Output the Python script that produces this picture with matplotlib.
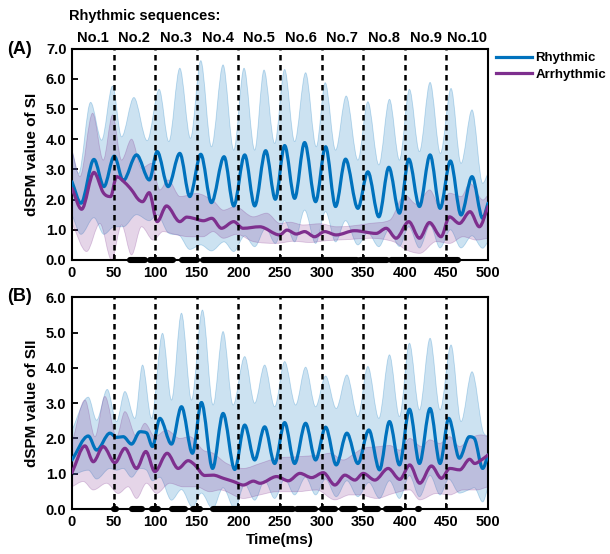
import numpy as np
import matplotlib
matplotlib.use("Agg")
import matplotlib.pyplot as plt
from matplotlib.path import Path
from matplotlib.patches import PathPatch

plt.rcParams['font.family'] = ['Liberation Sans', 'DejaVu Sans']
plt.rcParams['font.weight'] = 'bold'

# ---------------- data ----------------
# panel A : SI
A_rhy_t = [0, 10.8, 26.4, 38.4, 50.8, 61.6, 77.6, 93, 102.4, 115.6, 129.6, 141.6, 154.8, 167.6, 182.8, 194.4,
           207.6, 219.6, 232.8, 244.4, 255.6, 267.6, 279.6, 292.8, 304.8, 316.8, 328.8, 343.6, 355.6, 368.8,
           380.8, 393.6, 404.8, 417.6, 430.4, 442.4, 454.8, 467.6, 480.8, 493.6, 500]
A_rhy_v = [2.59, 1.88, 3.33, 2.43, 3.44, 2.63, 3.48, 2.65, 3.59, 2.43, 3.53, 2.10, 3.50, 1.90, 3.42, 1.79,
           3.48, 1.79, 3.62, 2.01, 3.79, 2.04, 3.89, 1.93, 3.75, 1.77, 3.34, 1.71, 2.92, 1.43,
           3.07, 1.55, 3.34, 1.77, 3.48, 1.71, 3.28, 1.49, 2.76, 1.38, 1.88]
A_rhy_lo = [1.50, 0.85, 1.40, 0.85, 1.10, 1.10, 1.50, 1.30, 1.50, 0.90, 0.80, 0.35, 0.50, 0.30, 0.60, 0.28,
            0.80, 0.44, 1.05, 0.55, 1.30, 0.60, 1.65, 0.55, 1.60, 0.60, 1.30, 0.50, 0.90, 0.44,
            1.00, 0.45, 1.10, 0.40, 1.15, 0.40, 1.00, 0.40, 0.80, 0.39, 0.60]
A_rhy_hi_t = [0, 8, 22.4, 35.6, 48.8, 59.6, 74.4, 90.4, 104.8, 116.4, 129.6, 142.4, 154.8, 167.6, 181.6,
              194.4, 206.8, 219.6, 230.8, 243.6, 255.6, 267.6, 280.8, 293.6, 304.4, 316.8, 329.6, 343.6,
              355.6, 368.8, 381.6, 393.6, 405.6, 417.6, 430.4, 442.8, 455.6, 467.6, 480.8, 493.6, 500]
A_rhy_hi = [3.64, 2.87, 5.22, 3.97, 5.76, 4.08, 5.38, 3.95, 5.65, 3.92, 6.35, 4.03, 6.60, 3.75, 6.46,
            3.64, 6.35, 3.64, 6.29, 3.86, 6.31, 3.92, 6.20, 3.75, 5.87, 3.64, 5.43, 3.31,
            5.24, 3.15, 5.32, 3.31, 5.65, 3.59, 5.88, 3.53, 5.68, 3.20, 4.97, 2.54, 2.87]

A_arr_t = [0, 11.6, 26.4, 37.6, 46.4, 53.6, 63.6, 71.6, 79.6, 84.8, 92.8, 102.4, 113.6, 129.6, 138, 146,
           158, 168, 179.6, 194.4, 205.6, 225.6, 249.6, 258.4, 269.6, 279.6, 291.6, 303.6, 317.6, 339.6,
           365.6, 377.6, 389.6, 404.8, 417.6, 429.6, 443.6, 453.6, 465.6, 478.4, 489.6, 500]
A_arr_v = [2.37, 1.68, 2.90, 2.23, 2.10, 2.76, 2.56, 2.32, 2.01, 1.93, 2.23, 1.27, 1.79, 1.27, 1.42, 1.38,
           1.30, 1.38, 1.05, 1.27, 1.05, 1.10, 0.83, 0.99, 0.86, 0.94, 0.77, 0.94, 0.83, 0.97,
           0.88, 1.05, 0.72, 1.27, 0.72, 1.24, 0.77, 1.43, 1.21, 1.60, 1.10, 1.77]
A_arr_hi_t = [0, 9.6, 24.8, 37.6, 48.8, 59.6, 71.6, 83.6, 95.6, 105.6, 115.6, 130, 150, 170, 182, 196,
              218, 234, 250, 262, 278, 298, 318, 334, 358, 382, 400, 414, 430, 442, 454, 468, 478, 494, 500]
A_arr_hi = [3.64, 2.76, 4.86, 3.31, 4.80, 3.31, 4.00, 3.04, 3.20, 2.32, 2.65, 2.10, 2.20, 1.95, 1.65, 1.77,
            1.43, 1.55, 1.21, 1.25, 1.16, 1.20, 1.10, 1.12, 1.21, 1.32, 2.15, 1.85, 2.32, 1.77, 2.21,
            2.10, 2.54, 1.99, 2.15]
A_arr_lo_t = [0, 17.6, 33.6, 47.6, 59.6, 71.6, 83.6, 97.6, 109.6, 125.6, 141.6, 157.6, 169.6, 182, 198,
              218, 246, 266, 286, 306, 334, 358, 386, 402, 418, 438, 454, 470, 486, 500]
A_arr_lo = [1.21, 0.28, 1.21, 0.0, 1.16, 0.17, 1.10, 0.66, 0.94, 0.83, 0.77, 0.77, 0.94, 0.72, 0.85,
            0.61, 0.55, 0.62, 0.58, 0.64, 0.68, 0.72, 0.61, 0.33, 0.22, 0.61, 0.55, 0.77, 0.66, 0.72]
A_sig = [(70, 88), (94, 122), (132, 144), (146, 150), (157, 342), (346, 379), (384, 464)]

# panel B : SII
B_rhy_t = [0, 19.6, 29.6, 45.6, 53.6, 61.6, 71.6, 81.6, 89.6, 96.8, 105.6, 119.6, 131.6, 144.8, 155.6, 169,
           181.6, 195.6, 207.6, 219.6, 231.6, 243.6, 255.6, 267.6, 280.8, 292.8, 304.8, 317.6, 330.4,
           343.6, 356.8, 369.6, 381.6, 393.6, 405.6, 417.6, 430.4, 442.4, 452.8, 465.6, 477.6, 483.6,
           493.6, 500]
B_rhy_v = [1.39, 2.07, 1.67, 2.15, 2.03, 2.05, 1.84, 2.19, 2.16, 1.77, 2.57, 1.84, 2.90, 1.58, 3.02, 1.15,
           2.71, 1.12, 2.38, 1.39, 2.33, 1.29, 2.45, 1.29, 2.43, 1.39, 2.32, 1.25, 2.15,
           1.29, 2.24, 1.11, 2.48, 1.25, 2.83, 1.29, 2.85, 1.29, 2.57, 1.44, 2.05, 2.00,
           1.15, 1.53]
B_rhy_lo = [0.95, 1.10, 0.85, 1.15, 1.10, 1.15, 0.90, 1.15, 1.10, 0.80, 0.90, 0.25, 0.55, 0.05, 0.45, 0.00,
            0.60, 0.00, 0.70, 0.25, 0.80, 0.30, 0.85, 0.40, 0.90, 0.40, 0.85, 0.35, 0.80,
            0.35, 0.75, 0.30, 0.80, 0.30, 0.95, 0.35, 0.95, 0.40, 0.85, 0.45, 0.55, 0.60,
            0.20, 0.60]
B_rhy_hi_t = [0, 19.6, 29.6, 42.4, 53.6, 63.6, 75.6, 84.8, 95.6, 108.8, 119.6, 131.6, 143.6, 156.8, 169.6,
              181.6, 193.6, 207.6, 219.6, 231.6, 243.6, 255.6, 268.8, 280.8, 292.8, 304.8, 317.6, 330.4,
              343.6, 355.6, 368.8, 381.6, 393.6, 405.6, 417.6, 430.4, 442.4, 455.6, 467.6, 480.8, 493.6, 500]
B_rhy_hi = [2.24, 3.17, 2.52, 3.39, 2.48, 3.33, 2.57, 4.08, 2.57, 4.98, 3.09, 5.55, 3.09, 5.64, 2.95,
            5.03, 2.95, 4.32, 3.00, 4.08, 2.90, 4.18, 2.95, 4.02, 2.90, 3.77, 2.85, 3.80,
            2.62, 4.04, 2.57, 4.37, 2.62, 4.70, 2.81, 4.84, 2.81, 4.65, 2.48, 3.89, 2.24, 2.05]

B_arr_t = [0, 15.6, 25.6, 37.6, 51.6, 63.6, 77.6, 88.8, 99.6, 114.4, 127.6, 139.6, 147.6, 159.6, 169.6,
           182, 194, 206, 218, 226, 246, 260, 274, 288, 302, 316, 328, 340, 350, 364, 380, 394, 406,
           418, 432, 444, 454, 466, 478, 484, 492, 500]
B_arr_v = [1.03, 1.79, 1.34, 1.77, 1.31, 1.72, 1.15, 1.63, 1.06, 1.58, 1.15, 1.37, 1.25, 0.95, 0.96,
           0.87, 0.78, 0.68, 0.79, 0.73, 0.92, 0.80, 1.01, 0.89, 1.03, 0.68, 0.96, 0.82, 1.01, 0.82,
           1.15, 0.84, 1.25, 0.73, 1.22, 0.87, 1.15, 1.11, 1.41, 1.29, 1.39, 1.53]
B_arr_hi_t = [0, 15.6, 27.6, 39.6, 53.6, 63.6, 77.6, 87.6, 99.6, 113.6, 129.6, 141.6, 157.6, 169.6, 186,
              206, 226, 246, 270, 298, 310, 326, 340, 350, 370, 382, 394, 406, 420, 430, 442, 454, 466,
              478, 492, 500]
B_arr_hi = [1.86, 3.09, 2.05, 3.19, 2.05, 2.76, 2.05, 2.43, 2.05, 2.24, 2.00, 2.05, 1.67, 1.58, 1.29,
            1.15, 1.29, 1.44, 1.48, 1.53, 1.58, 1.39, 1.58, 1.72, 1.77, 1.80, 1.67, 2.00, 1.77, 1.96,
            1.86, 2.05, 1.77, 2.00, 2.10, 2.05]
B_arr_lo_t = [0, 13.6, 25.6, 41.6, 55.6, 67.6, 77.6, 89.6, 101.6, 117.6, 133.6, 149.6, 165.6, 178, 206,
              226, 246, 270, 294, 316, 334, 346, 366, 386, 406, 418, 438, 454, 470, 486, 500]
B_arr_lo = [0.63, 0.78, 0.54, 0.73, 0.44, 0.63, 0.30, 0.73, 0.44, 0.73, 0.63, 0.63, 0.49, 0.54, 0.30,
            0.40, 0.49, 0.49, 0.54, 0.26, 0.40, 0.40, 0.30, 0.44, 0.54, 0.26, 0.44, 0.40, 0.54, 0.54, 0.63]
B_sig = [(51, 52.5), (72, 84), (96, 103), (120, 136), (145, 154), (170, 266), (271, 292), (301, 316),
         (325, 340), (352, 368), (378, 394), (415.5, 417)]

seq_labels = ["No.1", "No.2", "No.3", "No.4", "No.5", "No.6", "No.7", "No.8", "No.9", "No.10"]
boundaries = [50, 100, 150, 200, 250, 300, 350, 400, 450]

blue = "#0072BD"
purple = "#7E2F8E"


# smooth curve through the read points (bezier segments drawn by matplotlib)
def bez(t, v):
    t = np.asarray(t, float)
    v = np.asarray(v, float)
    d = np.diff(v) / np.diff(t)
    m = np.zeros_like(v)
    m[0] = d[0]
    m[-1] = d[-1]
    for i in range(1, len(v) - 1):
        if d[i - 1] * d[i] > 0:
            s = (v[i + 1] - v[i - 1]) / (t[i + 1] - t[i - 1])
            lim = 3 * min(abs(d[i - 1]), abs(d[i]))
            m[i] = np.sign(s) * min(abs(s), lim)
    verts = [(t[0], v[0])]
    codes = [Path.MOVETO]
    for i in range(len(t) - 1):
        h = t[i + 1] - t[i]
        verts += [(t[i] + h / 3, v[i] + m[i] * h / 3),
                  (t[i + 1] - h / 3, v[i + 1] - m[i + 1] * h / 3),
                  (t[i + 1], v[i + 1])]
        codes += [Path.CURVE4] * 3
    return verts, codes


def draw_line(ax, t, v, color, z=5):
    verts, codes = bez(t, v)
    ax.add_patch(PathPatch(Path(verts, codes), fill=False, edgecolor=color, lw=2.3, zorder=z,
                           capstyle='round', joinstyle='round'))


def draw_band(ax, t_hi, v_hi, t_lo, v_lo, color, z=2):
    v1, c1 = bez(t_hi, v_hi)
    v2, c2 = bez(t_lo[::-1], v_lo[::-1])
    c2 = [Path.LINETO] + c2[1:]
    verts = v1 + v2 + [v1[0]]
    codes = c1 + c2 + [Path.CLOSEPOLY]
    ax.add_patch(PathPatch(Path(verts, codes), facecolor=color, alpha=0.2, edgecolor='none', zorder=z))
    ax.add_patch(PathPatch(Path(verts, codes), fill=False, edgecolor=color, alpha=0.25, lw=0.6, zorder=z))


def setup(ax, ymax, ylabel, sig):
    for b in boundaries:
        ax.plot([b, b], [0, ymax], color='k', lw=1.8, dashes=(2.2, 1.8), zorder=6)
    for s, e in sig:
        ax.plot([s, e], [0, 0], color='k', lw=4.4, solid_capstyle='round', clip_on=False, zorder=7)
    ax.set_xlim(0, 500)
    ax.set_ylim(0, ymax)
    ax.set_xticks(np.arange(0, 501, 50))
    ax.set_yticks(np.arange(0, ymax + 0.1, 1))
    ax.set_yticklabels(["%.1f" % y for y in np.arange(0, ymax + 0.1, 1)])
    ax.tick_params(direction='in', length=4, width=1.3, labelsize=10.5, pad=4)
    for sp in ax.spines.values():
        sp.set_linewidth(1.5)
    ax.set_ylabel(ylabel, fontsize=11, fontweight='bold', labelpad=5)


fig = plt.figure(figsize=(6.1, 5.54), dpi=100)
axA = fig.add_axes([0.118, 0.5307, 0.682, 0.3816])
axB = fig.add_axes([0.118, 0.0812, 0.682, 0.3821])

# panel A
draw_band(axA, A_rhy_hi_t, A_rhy_hi, A_rhy_t, A_rhy_lo, blue)
draw_band(axA, A_arr_hi_t, A_arr_hi, A_arr_lo_t, A_arr_lo, purple)
draw_line(axA, A_rhy_t, A_rhy_v, blue)
draw_line(axA, A_arr_t, A_arr_v, purple)
setup(axA, 7, "dSPM value of SI", A_sig)

# panel B
draw_band(axB, B_rhy_hi_t, B_rhy_hi, B_rhy_t, B_rhy_lo, blue)
draw_band(axB, B_arr_hi_t, B_arr_hi, B_arr_lo_t, B_arr_lo, purple)
draw_line(axB, B_rhy_t, B_rhy_v, blue)
draw_line(axB, B_arr_t, B_arr_v, purple)
setup(axB, 6, "dSPM value of SII", B_sig)
axB.set_xlabel("Time(ms)", fontsize=11, fontweight='bold', labelpad=3)

# sequence labels above panel A
for i, lab in enumerate(seq_labels):
    axA.text(25 + 50 * i, 1.05, lab, transform=axA.get_xaxis_transform(), ha='center', va='center',
             fontsize=10.5, fontweight='bold')
fig.text(0.113, 0.971, "Rhythmic sequences:", ha='left', va='center', fontsize=10.5, fontweight='bold')
fig.text(0.012, 0.91, "(A)", ha='left', va='center', fontsize=13, fontweight='bold')
fig.text(0.012, 0.464, "(B)", ha='left', va='center', fontsize=13, fontweight='bold')

# legend
h1, = axA.plot([], [], color=blue, lw=2.3, label="Rhythmic")
h2, = axA.plot([], [], color=purple, lw=2.3, label="Arrhythmic")
fig.legend(handles=[h1, h2], loc='upper left', bbox_to_anchor=(0.803, 0.918), frameon=False,
           handlelength=2.7, handletextpad=0.25, labelspacing=0.35, borderaxespad=0.1,
           prop={'size': 9.5, 'weight': 'bold'})

plt.savefig("out.png", dpi=100)
